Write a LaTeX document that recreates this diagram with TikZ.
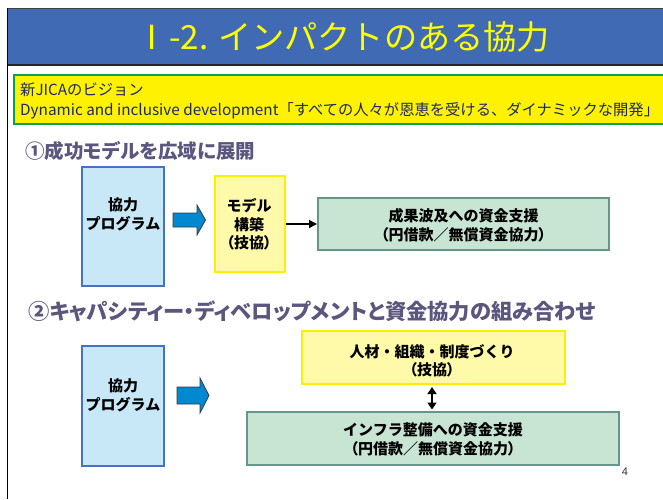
\documentclass[tikz,border=0pt]{standalone}
\usepackage{fontspec}
\setmainfont{Liberation Sans}
\newfontfamily\jp{Noto Sans CJK JP}
\newfontfamily\jpp{Noto Sans CJK JP}[RawFeature=+palt]
\newcommand\hlp{{\jpp （}}
\newcommand\hrp{{\jpp ）}}
\usetikzlibrary{arrows.meta}
\definecolor{titleblue}{RGB}{64,106,180}
\definecolor{titleyellow}{RGB}{255,255,0}
\definecolor{visionfill}{RGB}{255,242,0}
\definecolor{visionedge}{RGB}{0,166,80}
\definecolor{visiontext}{RGB}{30,40,110}
\definecolor{headcol}{RGB}{90,86,125}
\definecolor{bluefill}{RGB}{200,232,248}
\definecolor{blueedge}{RGB}{68,114,196}
\definecolor{yellowfill}{RGB}{255,250,170}
\definecolor{yellowedge}{RGB}{255,238,0}
\definecolor{greenfill}{RGB}{200,228,210}
\definecolor{greenedge}{RGB}{100,150,140}
\definecolor{arrowblue}{RGB}{0,136,208}
\definecolor{arrowedge}{RGB}{50,60,70}
\tikzset{
  bluebox/.style={draw=blueedge, fill=bluefill, line width=1.5pt, inner sep=0pt},
  yellowbox/.style={draw=yellowedge, fill=yellowfill, line width=2pt, inner sep=0pt},
  greenbox/.style={draw=greenedge, fill=greenfill, line width=2pt, inner sep=0pt},
  boxtext/.style={font=\jp\bfseries\fontsize{15}{18.5}\selectfont, align=center, text=black, inner sep=0pt},
  headtext/.style={font=\jpp\bfseries\fontsize{#1}{24}\selectfont, text=headcol, anchor=west, inner sep=0pt},
  visiontxt/.style={font=\jp\fontsize{15.3}{17}\selectfont, text=visiontext, anchor=west, inner sep=0pt},
  blockarrow/.style={fill=arrowblue, draw=arrowedge, line width=0.8pt, line join=miter},
  conn/.style={line width=1.5pt, -{Triangle[length=8pt,width=8pt]}},
  dconn/.style={line width=1.5pt, {Triangle[length=7pt,width=9pt]}-{Triangle[length=7pt,width=9pt]}, shorten <=2pt, shorten >=1.5pt}
}
\begin{document}
\begin{tikzpicture}[x=1pt,y=-1pt]
\useasboundingbox (0,0) rectangle (663,499);
\fill[white] (0,0) rectangle (663,499);
% frame and title bar
\fill[titleblue] (7,8) rectangle (663,64);
\draw[line width=1pt, black!75] (7,8.5) -- (663,8.5);
\draw[line width=2pt, black!85] (7,64.5) -- (663,64.5);
\draw[line width=1pt, black] (7.5,8) -- (7.5,499);
\node[font=\jp\fontsize{33.2}{36}\selectfont, text=titleyellow, inner sep=0pt] (title) at (343,37) {Ⅰ-2. インパクトのある協力};
% vision box
\node[draw=visionedge, fill=visionfill, line width=2pt, minimum width=658, minimum height=49, inner sep=0pt] (vision) at (342.7,99.5) {};
\node[visiontxt] (v1) at (20,90) {新JICAのビジョン};
\node[visiontxt] (v2) at (20,111) {Dynamic and inclusive development「すべての人々が恩恵を受ける、ダイナミックな開発」};
% section 1
\node[headtext=19.5] (h1) at (25,151) {①成功モデルを広域に展開};
\node[bluebox, minimum width=82, minimum height=119] (b1) at (123,226.5) {};
\node[boxtext] (b1t) at (123,214.5) {協力\\プログラム};
\fill[blockarrow] (173,213) -- (197,213) -- (197,205) -- (205.5,220) -- (197,235) -- (197,227) -- (173,227) -- cycle;
\node[yellowbox, minimum width=70, minimum height=96] (y1) at (250,224) {};
\node[boxtext] (y1t) at (249,224.5) {モデル\\構築\\\hlp 技協\hrp};
\node[greenbox, minimum width=291, minimum height=52] (g1) at (463.5,224) {};
\node[boxtext] (g1t) at (463.5,225) {成果波及への資金支援\\\hlp 円借款／無償資金協力\hrp};
\draw[conn] (y1.east) -- (g1.west);
% section 2
\node[headtext=21.3] (h2) at (28,311) {②キャパシティー・ディベロップメントと資金協力の組み合わせ};
\node[bluebox, minimum width=82, minimum height=120] (b2) at (123,406) {};
\node[boxtext] (b2t) at (123,395.5) {協力\\プログラム};
\fill[blockarrow] (177,387) -- (200,387) -- (200,378) -- (209,395.5) -- (200,413) -- (200,404) -- (177,404) -- cycle;
\node[yellowbox, minimum width=263, minimum height=53] (y2) at (433.5,357.5) {};
\node[boxtext] (y2t) at (432,361) {人材・組織・制度づくり\\\hlp 技協\hrp};
\node[greenbox, minimum width=372, minimum height=53] (g2) at (433,438.5) {};
\node[boxtext] (g2t) at (433,439.5) {インフラ整備への資金支援\\\hlp 円借款／無償資金協力\hrp};
\draw[dconn] (y2.south -| 432,0) -- (g2.north -| 432,0);
\node[font=\fontsize{11}{13}\selectfont, text=black!80, inner sep=0pt] (pnum) at (625,472) {4};
\end{tikzpicture}
\end{document}
